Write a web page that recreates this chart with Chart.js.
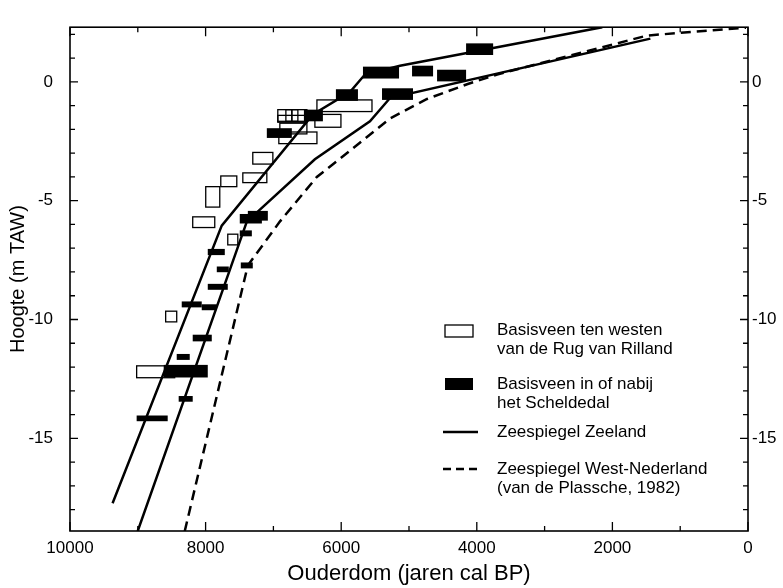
<!DOCTYPE html>
<html><head><meta charset="utf-8">
<script src="https://cdn.jsdelivr.net/npm/chart.js@4.4.0/dist/chart.umd.min.js"></script>
<style>html,body{margin:0;padding:0;background:#fff;}#wrap{width:783px;height:588px;}</style>
</head><body><div id="wrap"><canvas id="c" width="783" height="588"></canvas></div>
<script>
// ---- data (age in years cal BP, height in m TAW) ----
const zeelandUpperAge    = [9372, 7762, 6418, 5871, 5650, 5133, 2149];
const zeelandUpperHeight = [-17.73, -6.05, -1.37, -0.43, 0.31, 0.68, 2.3];
const zeelandLowerAge    = [9002, 7392, 6388, 5576, 5280, 1440];
const zeelandLowerHeight = [-18.91, -5.88, -3.26, -1.66, -0.68, 1.82];
const westNLAge    = [8308, 7378, 6905, 6359, 5871, 5281, 4734, 4144, 3700, 1484, 30];
const westNLHeight = [-18.91, -7.73, -5.88, -4.0, -2.90, -1.54, -0.72, -0.10, 0.31, 1.95, 2.28];
// boxes: [oldest age, youngest age, lowest height, highest height]
const openBoxes = [
  [6935, 6728, -1.66, -1.17], [6816, 6639, -1.66, -1.17], [6728, 6506, -1.66, -1.17],
  [6935, 6506, -1.70, -1.41], [6905, 6506, -2.19, -1.74], [6920, 6358, -2.60, -2.11],
  [6358, 5546, -1.25, -0.76], [6388, 6004, -1.91, -1.37], [7304, 7008, -3.46, -2.97],
  [7998, 7791, -5.27, -4.41], [7776, 7540, -4.41, -3.96], [7451, 7097, -4.24, -3.83],
  [8190, 7865, -6.13, -5.68], [7673, 7525, -6.86, -6.41], [8589, 8426, -10.10, -9.65],
  [9017, 8456, -12.45, -11.95]
];
const filledBoxes = [
  [6550, 6270, -1.66, -1.17], [7097, 6728, -2.36, -1.95], [6078, 5753, -0.80, -0.31],
  [5679, 5147, 0.14, 0.64], [4955, 4645, 0.23, 0.68], [4586, 4158, 0.02, 0.51],
  [5398, 4941, -0.76, -0.27], [4158, 3759, 1.13, 1.62], [7496, 7170, -5.96, -5.56],
  [7377, 7082, -5.84, -5.43], [7496, 7318, -6.50, -6.25], [7968, 7717, -7.29, -7.03],
  [7481, 7304, -7.85, -7.60], [7835, 7658, -8.01, -7.77], [7968, 7673, -8.75, -8.50],
  [8352, 8057, -9.49, -9.24], [8057, 7835, -9.61, -9.36], [8190, 7909, -10.92, -10.64],
  [8426, 8234, -11.70, -11.45], [8618, 7968, -12.44, -11.91], [8397, 8190, -13.46, -13.22],
  [9017, 8559, -14.28, -14.04]
];
const xTickValues = [10000, 8000, 6000, 4000, 2000, 0];
const yTickValues = [0, -5, -10, -15];
const legendOpen   = ['Basisveen ten westen', 'van de Rug van Rilland'];
const legendFilled = ['Basisveen in of nabij', 'het Scheldedal'];
const legendSolid  = ['Zeespiegel Zeeland'];
const legendDashed = ['Zeespiegel West-Nederland', '(van de Plassche, 1982)'];

const FONT = "'Liberation Sans', Arial, sans-serif";
const toXY = (xs, ys) => xs.map((v, i) => ({x: v, y: ys[i]}));

const plugin = {
  id: 'boxesFrame',
  beforeDatasetsDraw(chart) {
    const {ctx, chartArea: a, scales: {x, y}} = chart;
    ctx.save();
    ctx.beginPath(); ctx.rect(a.left, a.top, a.right - a.left, a.bottom - a.top); ctx.clip();
    ctx.strokeStyle = '#000'; ctx.lineWidth = 1.3; ctx.fillStyle = '#000';
    openBoxes.forEach(b => {
      const x1 = x.getPixelForValue(b[0]), x2 = x.getPixelForValue(b[1]);
      const y1 = y.getPixelForValue(b[3]), y2 = y.getPixelForValue(b[2]);
      ctx.strokeRect(x1, y1, x2 - x1, y2 - y1);
    });
    filledBoxes.forEach(b => {
      const x1 = x.getPixelForValue(b[0]), x2 = x.getPixelForValue(b[1]);
      const y1 = y.getPixelForValue(b[3]), y2 = y.getPixelForValue(b[2]);
      ctx.fillRect(x1, y1, x2 - x1, y2 - y1);
    });
    ctx.restore();
  },
  afterDraw(chart) {
    const {ctx, chartArea: a, scales: {x, y}} = chart;
    ctx.save();
    ctx.strokeStyle = '#000'; ctx.lineWidth = 1.6;
    ctx.strokeRect(a.left, a.top, a.right - a.left, a.bottom - a.top);
    ctx.lineWidth = 1.3;
    ctx.beginPath();
    for (let v = 0; v <= 10000; v += 1000) {
      const px = x.getPixelForValue(v), len = v % 2000 === 0 ? 9 : 5;
      ctx.moveTo(px, a.bottom); ctx.lineTo(px, a.bottom - len);
      ctx.moveTo(px, a.top); ctx.lineTo(px, a.top + len);
    }
    for (let v = -18; v <= 2; v += 1) {
      const py = y.getPixelForValue(v), len = v % 5 === 0 ? 8 : 5;
      ctx.moveTo(a.left, py); ctx.lineTo(a.left + len, py);
      ctx.moveTo(a.right, py); ctx.lineTo(a.right - len, py);
    }
    ctx.stroke();
    // legend
    const lx = a.left + 375, tx = a.left + 427;
    ctx.font = '17px ' + FONT; ctx.fillStyle = '#000'; ctx.textBaseline = 'middle'; ctx.textAlign = 'left';
    ctx.lineWidth = 1.3; ctx.strokeRect(lx, 325, 28, 12);
    legendOpen.forEach((t, i) => ctx.fillText(t, tx, 330 + i * 19));
    ctx.fillRect(lx, 378, 28, 12);
    legendFilled.forEach((t, i) => ctx.fillText(t, tx, 384 + i * 19));
    ctx.lineWidth = 2.5;
    ctx.beginPath(); ctx.moveTo(lx - 2, 432); ctx.lineTo(lx + 33, 432); ctx.stroke();
    legendSolid.forEach((t, i) => ctx.fillText(t, tx, 432 + i * 19));
    ctx.setLineDash([8, 5]);
    ctx.beginPath(); ctx.moveTo(lx - 2, 469); ctx.lineTo(lx + 33, 469); ctx.stroke();
    ctx.setLineDash([]);
    legendDashed.forEach((t, i) => ctx.fillText(t, tx, 469 + i * 19));
    ctx.restore();
  }
};

const lineDs = (label, xs, ys, dash) => ({
  label, data: toXY(xs, ys), showLine: true, pointRadius: 0, borderColor: '#000',
  backgroundColor: '#000', borderWidth: 2.5, borderDash: dash, fill: false, tension: 0
});

const tickFont = {family: FONT, size: 17};
const noGrid = {display: false, drawTicks: false};

new Chart(document.getElementById('c'), {
  type: 'scatter',
  data: { datasets: [
    lineDs('Zeespiegel Zeeland', zeelandUpperAge, zeelandUpperHeight, []),
    lineDs('Zeespiegel Zeeland (onder)', zeelandLowerAge, zeelandLowerHeight, []),
    lineDs('Zeespiegel West-Nederland', westNLAge, westNLHeight, [10, 6])
  ]},
  options: {
    responsive: false, animation: false,
    layout: {padding: {top: 14, left: 0, right: 0, bottom: 0}},
    plugins: {legend: {display: false}, tooltip: {enabled: false}},
    scales: {
      x: {
        type: 'linear', position: 'bottom', reverse: true, min: 0, max: 10000,
        afterBuildTicks: s => { s.ticks = xTickValues.map(v => ({value: v})); },
        afterFit: s => { s.height = 57; },
        grid: noGrid, border: {display: false},
        ticks: {color: '#000', font: tickFont, padding: 7, maxRotation: 0, autoSkip: false, callback: v => String(v)},
        title: {display: true, text: 'Ouderdom (jaren cal BP)', color: '#000', font: {family: FONT, size: 22}, padding: {top: 0, bottom: 1}}
      },
      y: {
        type: 'linear', position: 'left', min: -18.9, max: 2.3,
        afterBuildTicks: s => { s.ticks = yTickValues.map(v => ({value: v})); },
        afterFit: s => { s.width = 70; },
        grid: noGrid, border: {display: false},
        ticks: {color: '#000', font: tickFont, padding: 17, callback: v => String(v)},
        title: {display: true, text: 'Hoogte (m TAW)', color: '#000', font: {family: FONT, size: 20}, padding: {top: 6, bottom: 0}}
      },
      y2: {
        type: 'linear', position: 'right', min: -18.9, max: 2.3,
        afterBuildTicks: s => { s.ticks = yTickValues.map(v => ({value: v})); },
        afterFit: s => { s.width = 35; },
        grid: noGrid, border: {display: false},
        ticks: {color: '#000', font: tickFont, padding: 4, callback: v => String(v)}
      }
    }
  },
  plugins: [plugin]
});
</script></body></html>
